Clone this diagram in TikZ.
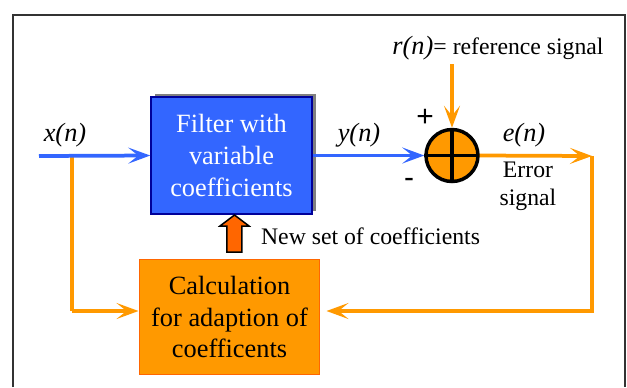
\documentclass[tikz,border=0pt]{standalone}
\usepackage{fontspec}
\setmainfont{Liberation Serif}
\newfontfamily\signfont{Liberation Sans}
\usetikzlibrary{arrows.meta,shadows}

\definecolor{filterblue}{HTML}{3366FF}
\definecolor{adaptorange}{HTML}{FF9900}
\definecolor{newred}{HTML}{FF6600}

\tikzset{
	bluesig/.style={filterblue, line width=0.075cm},
	orangesig/.style={adaptorange, line width=0.075cm},
	sigtip/.style={-{Stealth[length=0.44cm,width=0.32cm,inset=0.2cm]}},
	filterbox/.style={draw=blue!60!black, line width=0.03cm, fill=filterblue, text=white,
		minimum width=3.22cm, minimum height=2.34cm, align=center,
		font=\fontsize{15}{18}\selectfont,
		copy shadow={shadow xshift=0.08cm, shadow yshift=0.06cm, fill=gray, draw=none}},
	calcbox/.style={draw=newred, line width=0.02cm, fill=adaptorange,
		minimum width=3.62cm, minimum height=2.3cm, align=center,
		font=\fontsize{15}{18}\selectfont},
	sumcircle/.style={circle, draw=black, line width=0.07cm, fill=adaptorange,
		minimum size=1.04cm, inner sep=0pt},
	siglabel/.style={font=\fontsize{13.5}{16}\selectfont, inner sep=1pt},
	mathlabel/.style={font=\fontsize{15}{18}\selectfont\itshape, inner sep=1pt},
	signlabel/.style={font=\fontsize{17}{20}\signfont, inner sep=0pt}
}

\begin{document}
\begin{tikzpicture}[x=0.02cm,y=-0.02cm]
	\useasboundingbox (0,0) rectangle (627,387);
	
	%OUTLINE
	\draw[black!80, line width=0.03cm] (13,387)--(13,15)--(625,15)--(625,387);
	
	%BLOCKS
	\node[filterbox] (filter) at (231.5,155.5) {Filter with\\variable\\coefficients};
	\node[calcbox] (calc) at (229.5,317) {Calculation\\for adaption of\\coefficents};
	\node[sumcircle] (sum) at (452,155.5) {};
	\draw[line width=0.07cm] (sum.north)--(sum.south) (sum.west)--(sum.east);
	
	%SIGNAL POINTS
	\coordinate (in) at (39,156);
	\coordinate (split) at (72,156);
	\coordinate (bend) at (72,311);
	\coordinate (ref) at (452,64);
	\coordinate (out) at (592,156);
	\coordinate (back) at (592,311);
	
	%ORANGE PATHS
	\draw[orangesig] (split)--(bend);
	\draw[orangesig, sigtip] (bend)--(bend -| calc.west);
	\draw[orangesig, sigtip] (ref)--(sum.north);
	\draw[orangesig, sigtip] (sum.east)--(out);
	\draw[orangesig, sigtip] (out)--(back)--([xshift=0.12cm]back -| calc.east);
	
	%BLUE PATHS
	\draw[bluesig, sigtip] (in)--(filter.west);
	\draw[bluesig, sigtip] (filter.east)--(sum.west);
	
	%NEW COEFFICIENTS
	\draw[fill=newred, line width=0.03cm] (227,252)--(227,226)--(220,226)--(234.5,215)--(249,226)--(242,226)--(242,252)--cycle;
	
	%LABELS
	\node[mathlabel] (xlab) at (65,135) {x(n)};
	\node[mathlabel] (ylab) at (359,135) {y(n)};
	\node[mathlabel] (elab) at (524,135) {e(n)};
	\node[siglabel] (rlab) at (498,48) {\fontsize{15}{18}\selectfont\textit{r(n)}\fontsize{13.5}{16}\selectfont= reference signal};
	\node[siglabel, align=center] (errlab) at (528,186) {Error\\signal};
	\node[siglabel, anchor=west] (newlab) at (259,236) {New set of coefficients};
	\node[signlabel] (plus) at (425,118) {+};
	\node[signlabel] (minus) at (409,183) {-};
\end{tikzpicture}
\end{document}
